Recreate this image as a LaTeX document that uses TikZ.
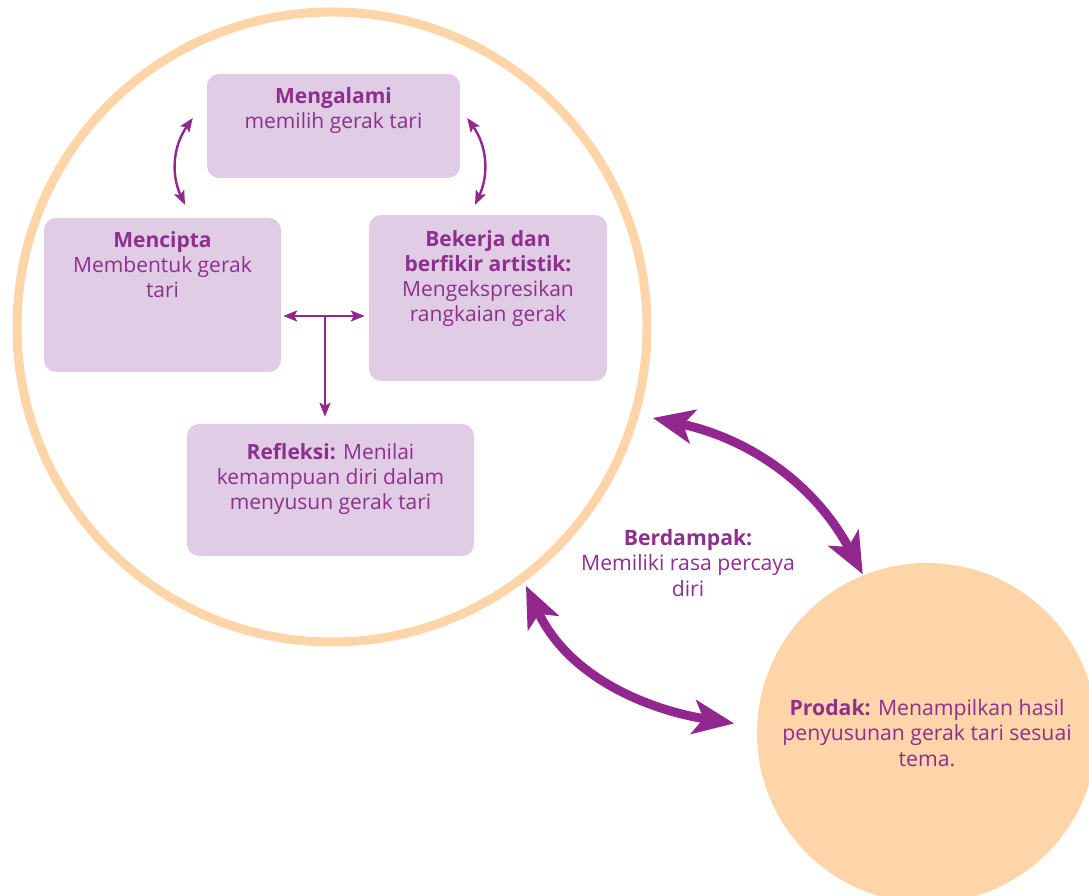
\documentclass[tikz,border=0pt]{standalone}
\usepackage{fontspec}
\setmainfont{Open Sans}
\usetikzlibrary{arrows.meta,calc}
\definecolor{ungu}{HTML}{92278F}
\definecolor{unguteks}{HTML}{8E2F8E}
\definecolor{lavender}{HTML}{E0CCE4}
\definecolor{persik}{HTML}{FDD5A8}
\newcommand{\isikotak}[3]{\parbox[t][#2][t]{#1}{\centering\strut #3}}

\begin{document}
\begin{tikzpicture}[x=1pt, y=1pt,
  font=\fontsize{21pt}{25pt}\selectfont,
  kotak/.style={fill=lavender, rounded corners=12pt, inner xsep=8pt, inner ysep=12pt, text=unguteks},
  besar/.style={font=\fontsize{21.2pt}{25.5pt}\selectfont, text=unguteks, align=center},
  panahkecil/.style={ungu, line width=2.4pt,
    arrows={Stealth[length=14pt,width=11pt,inset=3pt]-Stealth[length=14pt,width=11pt,inset=3pt]}},
  panahbesar/.style={ungu, line width=9pt,
    arrows={Stealth[length=41pt,width=34pt,inset=10pt]-Stealth[length=41pt,width=34pt,inset=10pt]}}]
  \useasboundingbox (0,0) rectangle (1089,896);

  % lingkaran proses dan produk
  \node[circle, draw=persik, line width=9pt, minimum size=630pt, inner sep=0pt] (proses) at (332,569) {};
  \node[circle, fill=persik, minimum size=340pt, inner sep=0pt, besar] (produk) at (927,163)
    {\textbf{Prodak:} Menampilkan hasil\\penyusunan gerak tari sesuai\\tema.};

  % kotak-kotak di dalam lingkaran
  \node[kotak] (mengalami) at (333.5,770) {\isikotak{237pt}{80pt}{\textbf{Mengalami}\\memilih gerak tari}};
  \node[kotak] (mencipta) at (162.5,601) {\isikotak{221pt}{130pt}{\textbf{Mencipta}\\Membentuk gerak\\tari}};
  \node[kotak, inner ysep=14pt] (bekerja) at (488,598) {\isikotak{222pt}{138pt}{\textbf{Bekerja dan}\\\textbf{berfikir artistik:}\\Mengekspresikan\\rangkaian gerak}};
  \node[kotak, inner ysep=18pt] (refleksi) at (330.5,406) {\isikotak{271pt}{96pt}{\textbf{Refleksi:} Menilai\\kemampuan diri dalam\\menyusun gerak tari}};

  \node[besar] (dampak) at (688,333) {\textbf{Berdampak:}\\Memiliki rasa percaya\\diri};

  % panah kecil
  \draw[panahkecil] ([shift={(-14,8)}]mengalami.west) to[bend right=30] ([shift={(22.5,13)}]mencipta.north);
  \draw[panahkecil] ([shift={(7,8)}]mengalami.east) to[bend left=30] ([shift={(-13,10)}]bekerja.north);

  \coordinate (kiri) at ([yshift=-21pt]mencipta.east);
  \coordinate (kanan) at (kiri -| bekerja.west);
  \coordinate (simpang) at ($(kiri)!0.5!(kanan)$);
  \draw[panahkecil, shorten <=2pt, shorten >=4pt] (kiri) -- (kanan);
  \draw[panahkecil, arrows={-Stealth[length=14pt,width=11pt,inset=3pt]}, shorten >=7pt] (simpang) -- (simpang |- refleksi.north);

  % panah besar
  \draw[panahbesar, shorten <=14pt, shorten >=1pt] (proses.-16) to[out=-12, in=118] (produk.112);
  \draw[panahbesar, shorten <=4pt, shorten >=23pt] (proses.-53) to[out=-65, in=171] (produk.178);
\end{tikzpicture}
\end{document}
